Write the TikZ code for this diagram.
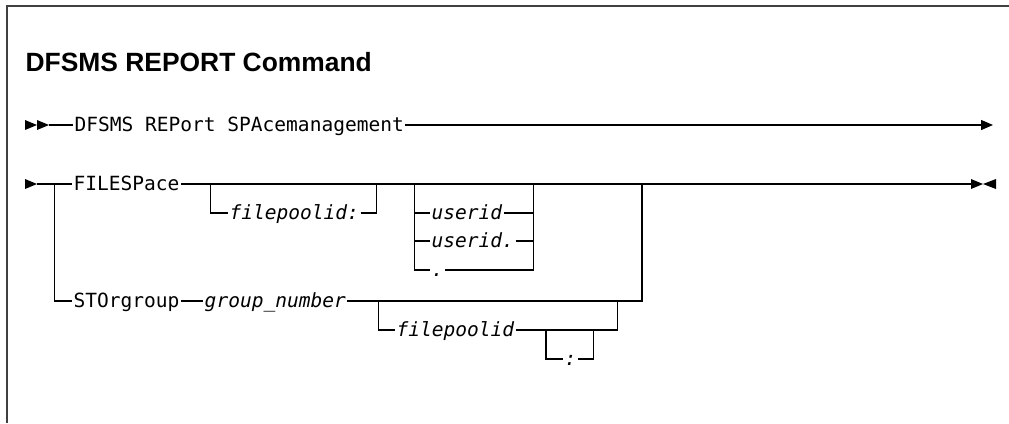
\documentclass[tikz,border=0pt]{standalone}
\usepackage{fontspec}
\setsansfont{Liberation Sans}
\setmonofont{DejaVu Sans Mono}
\usetikzlibrary{positioning,arrows.meta}

\begin{document}
\begin{tikzpicture}[x=1bp, y=-1bp, line width=1.3bp, node distance={22bp},
  kw/.style = {anchor=west, inner sep=0pt, inner xsep=1pt, text height=15bp, text depth=2bp, font=\fontsize{19.6}{22}\selectfont\ttfamily},
  var/.style = {kw, font=\fontsize{19.6}{22}\selectfont\ttfamily\itshape},
  frame/.style = {line width=2bp, black!75}]
\useasboundingbox (0,0) rectangle (1009,423);
\draw[frame] (1009,6) -- (7,6) -- (7,423);
\node[anchor=base west, inner sep=0pt, font=\fontsize{26.5}{30}\selectfont\sffamily\bfseries] (title) at (25,71) {DFSMS REPORT Command};

\coordinate (r1s) at (49,125);
\coordinate (r1e) at (993,125);
\node[kw] (cmd) at (73,125) {DFSMS REPort SPAcemanagement};
\fill (25,120) -- (37,125) -- (25,130) -- cycle;
\fill (37,120) -- (49,125) -- (37,130) -- cycle;
\draw (r1s) -- (cmd);
\draw[-{Triangle[length=12bp,width=10bp]}] (cmd) -- (r1e);

\coordinate (r2s) at (37,184);
\coordinate (r2e) at (971,184);
\coordinate (bl) at (54.5,184);
\coordinate (blb) at (54.5,301);
\coordinate (mr) at (642,184);
\coordinate (mrb) at (642,301);
\fill (25,179) -- (37,184) -- (25,189) -- cycle;
\fill (971,179) -- (983,184) -- (971,189) -- cycle;
\fill (996,179) -- (983,184) -- (996,189) -- cycle;

\node[kw] (fs) at (72,184) {FILESPace};
\node[var] (fp) at (228,213) {filepoolid:};
\node[var] (uid) at (430,213) {userid};
\node[var] (uidd) at (430,241) {userid.};
\node[var] (dot) at (430,270) {.};
\node[kw] (sto) at (72,301) {STOrgroup};
\node[var, right=of sto] (grp) {group\_number};
\node[var] (fp2) at (395,330) {filepoolid};
\node[var] (col) at (563,359) {:};

\draw (r2s) -- (fs);
\draw (fs) -- (r2e);
\draw (210.7,184) |- (fp);
\draw (fp) -| (376.7,184);
\draw (414.3,184) |- (dot);
\draw (dot) -| (533.3,184);
\draw (414.3,213) -- (uid);
\draw (uid) -- (533.3,213);
\draw (414.3,241) -- (uidd);
\draw (uidd) -- (533.3,241);
\draw (bl) -- (blb) -- (sto);
\draw (sto) -- (grp);
\draw (grp) -- (mrb) -- (mr);
\draw (378.3,301) |- (fp2);
\draw (fp2) -| (617.7,301);
\draw (546,330) |- (col);
\draw (col) -| (593.3,330);
\end{tikzpicture}
\end{document}
